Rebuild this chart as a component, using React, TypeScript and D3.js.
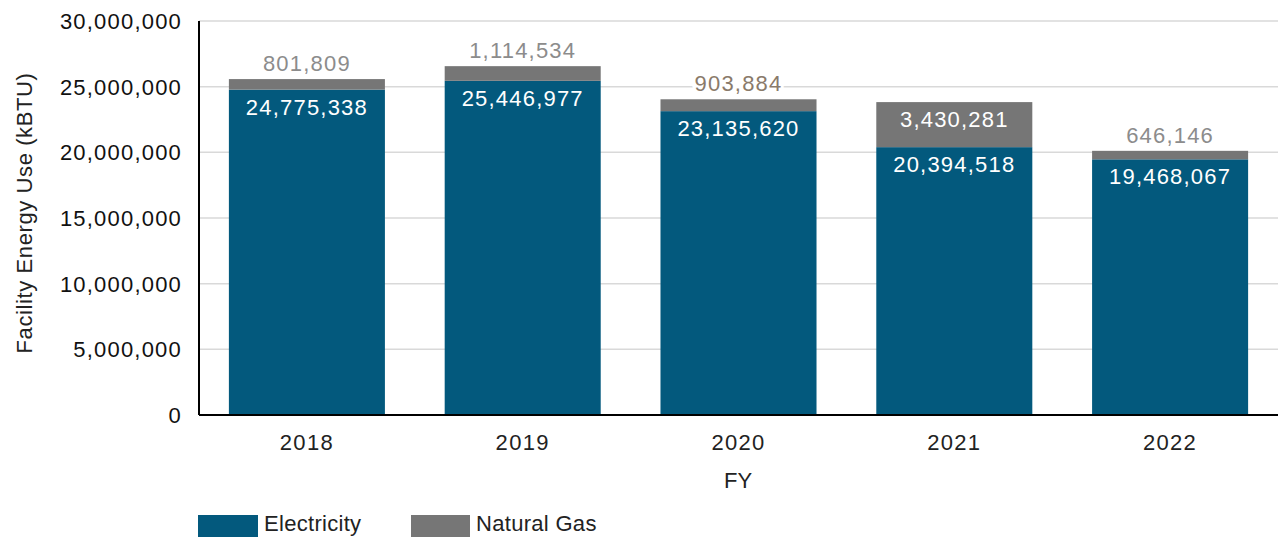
import React from "react";
import * as d3 from "d3";

const years = ["2018", "2019", "2020", "2021", "2022"];
const electricity = [24775338, 25446977, 23135620, 20394518, 19468067];
const naturalGas = [801809, 1114534, 903884, 3430281, 646146];
const yTicks = [0, 5000000, 10000000, 15000000, 20000000, 25000000, 30000000];
const gasLabelInside = [false, false, false, true, false];
const gasLabelColors = ["#8c8c8c", "#8c8c8c", "#8a7a6a", "#ffffff", "#8c8c8c"];

const W = 1278, H = 537;
const left = 199, right = 1278, top = 21, bottom = 415;
const FONT = "'Liberation Sans', Arial, sans-serif";
const ELEC = "#03597d";
const GAS = "#767676";

export default function App() {
  const x = d3.scaleBand<string>().domain(years).range([left, right]).paddingInner(0.277).paddingOuter(0.1385);
  const y = d3.scaleLinear().domain([0, 30000000]).range([bottom, top]);
  const fmt = d3.format(",");
  const bw = x.bandwidth();
  const num = { fontSize: 22, letterSpacing: 1.2 };
  return (
    <svg width={W} height={H} style={{ position: "absolute", left: 0, top: 0, fontFamily: FONT }}>
      {yTicks.map((t) => (
        <g key={t}>
          {t > 0 && <line x1={left} x2={right} y1={y(t)} y2={y(t)} stroke="#d9d9d9" strokeWidth={1.5} />}
          <text x={182} y={y(t)} dy="0.36em" textAnchor="end" {...num} fill="#111">{fmt(t)}</text>
        </g>
      ))}
      {years.map((yr, i) => {
        const x0 = x(yr)!;
        const cx = x0 + bw / 2;
        const e = electricity[i];
        const g = naturalGas[i];
        const gTop = y(e + g);
        return (
          <g key={yr}>
            <rect x={x0} y={y(e)} width={bw} height={bottom - y(e)} fill={ELEC} />
            <rect x={x0} y={gTop} width={bw} height={y(e) - gTop} fill={GAS} />
            <text x={cx} y={y(e) + 25} textAnchor="middle" {...num} fill="#fff">{fmt(e)}</text>
            {gasLabelInside[i] ? (
              <text x={cx} y={gTop + 25} textAnchor="middle" {...num} fill={gasLabelColors[i]}>{fmt(g)}</text>
            ) : (
              <text x={cx} y={gTop - 8} textAnchor="middle" {...num} fill={gasLabelColors[i]} stroke="#fff" strokeWidth={6} paintOrder="stroke">{fmt(g)}</text>
            )}
            <text x={cx} y={450} textAnchor="middle" fontSize={22} letterSpacing={1.3} fill="#222">{yr}</text>
          </g>
        );
      })}
      <line x1={left} x2={left} y1={top} y2={bottom} stroke="#000" strokeWidth={2} />
      <line x1={left} x2={right} y1={bottom} y2={bottom} stroke="#000" strokeWidth={2} />
      <text x={738} y={488} textAnchor="middle" fontSize={22} fill="#222">FY</text>
      <text transform={`translate(32,213) rotate(-90)`} textAnchor="middle" fontSize={22} letterSpacing={0.6} fill="#222">Facility Energy Use (kBTU)</text>
      <rect x={198} y={515} width={60} height={22} fill={ELEC} />
      <text x={264} y={531} fontSize={22} letterSpacing={0.3} fill="#222">Electricity</text>
      <rect x={411} y={515} width={59} height={22} fill={GAS} />
      <text x={476} y={531} fontSize={22} letterSpacing={0.3} fill="#222">Natural Gas</text>
    </svg>
  );
}
